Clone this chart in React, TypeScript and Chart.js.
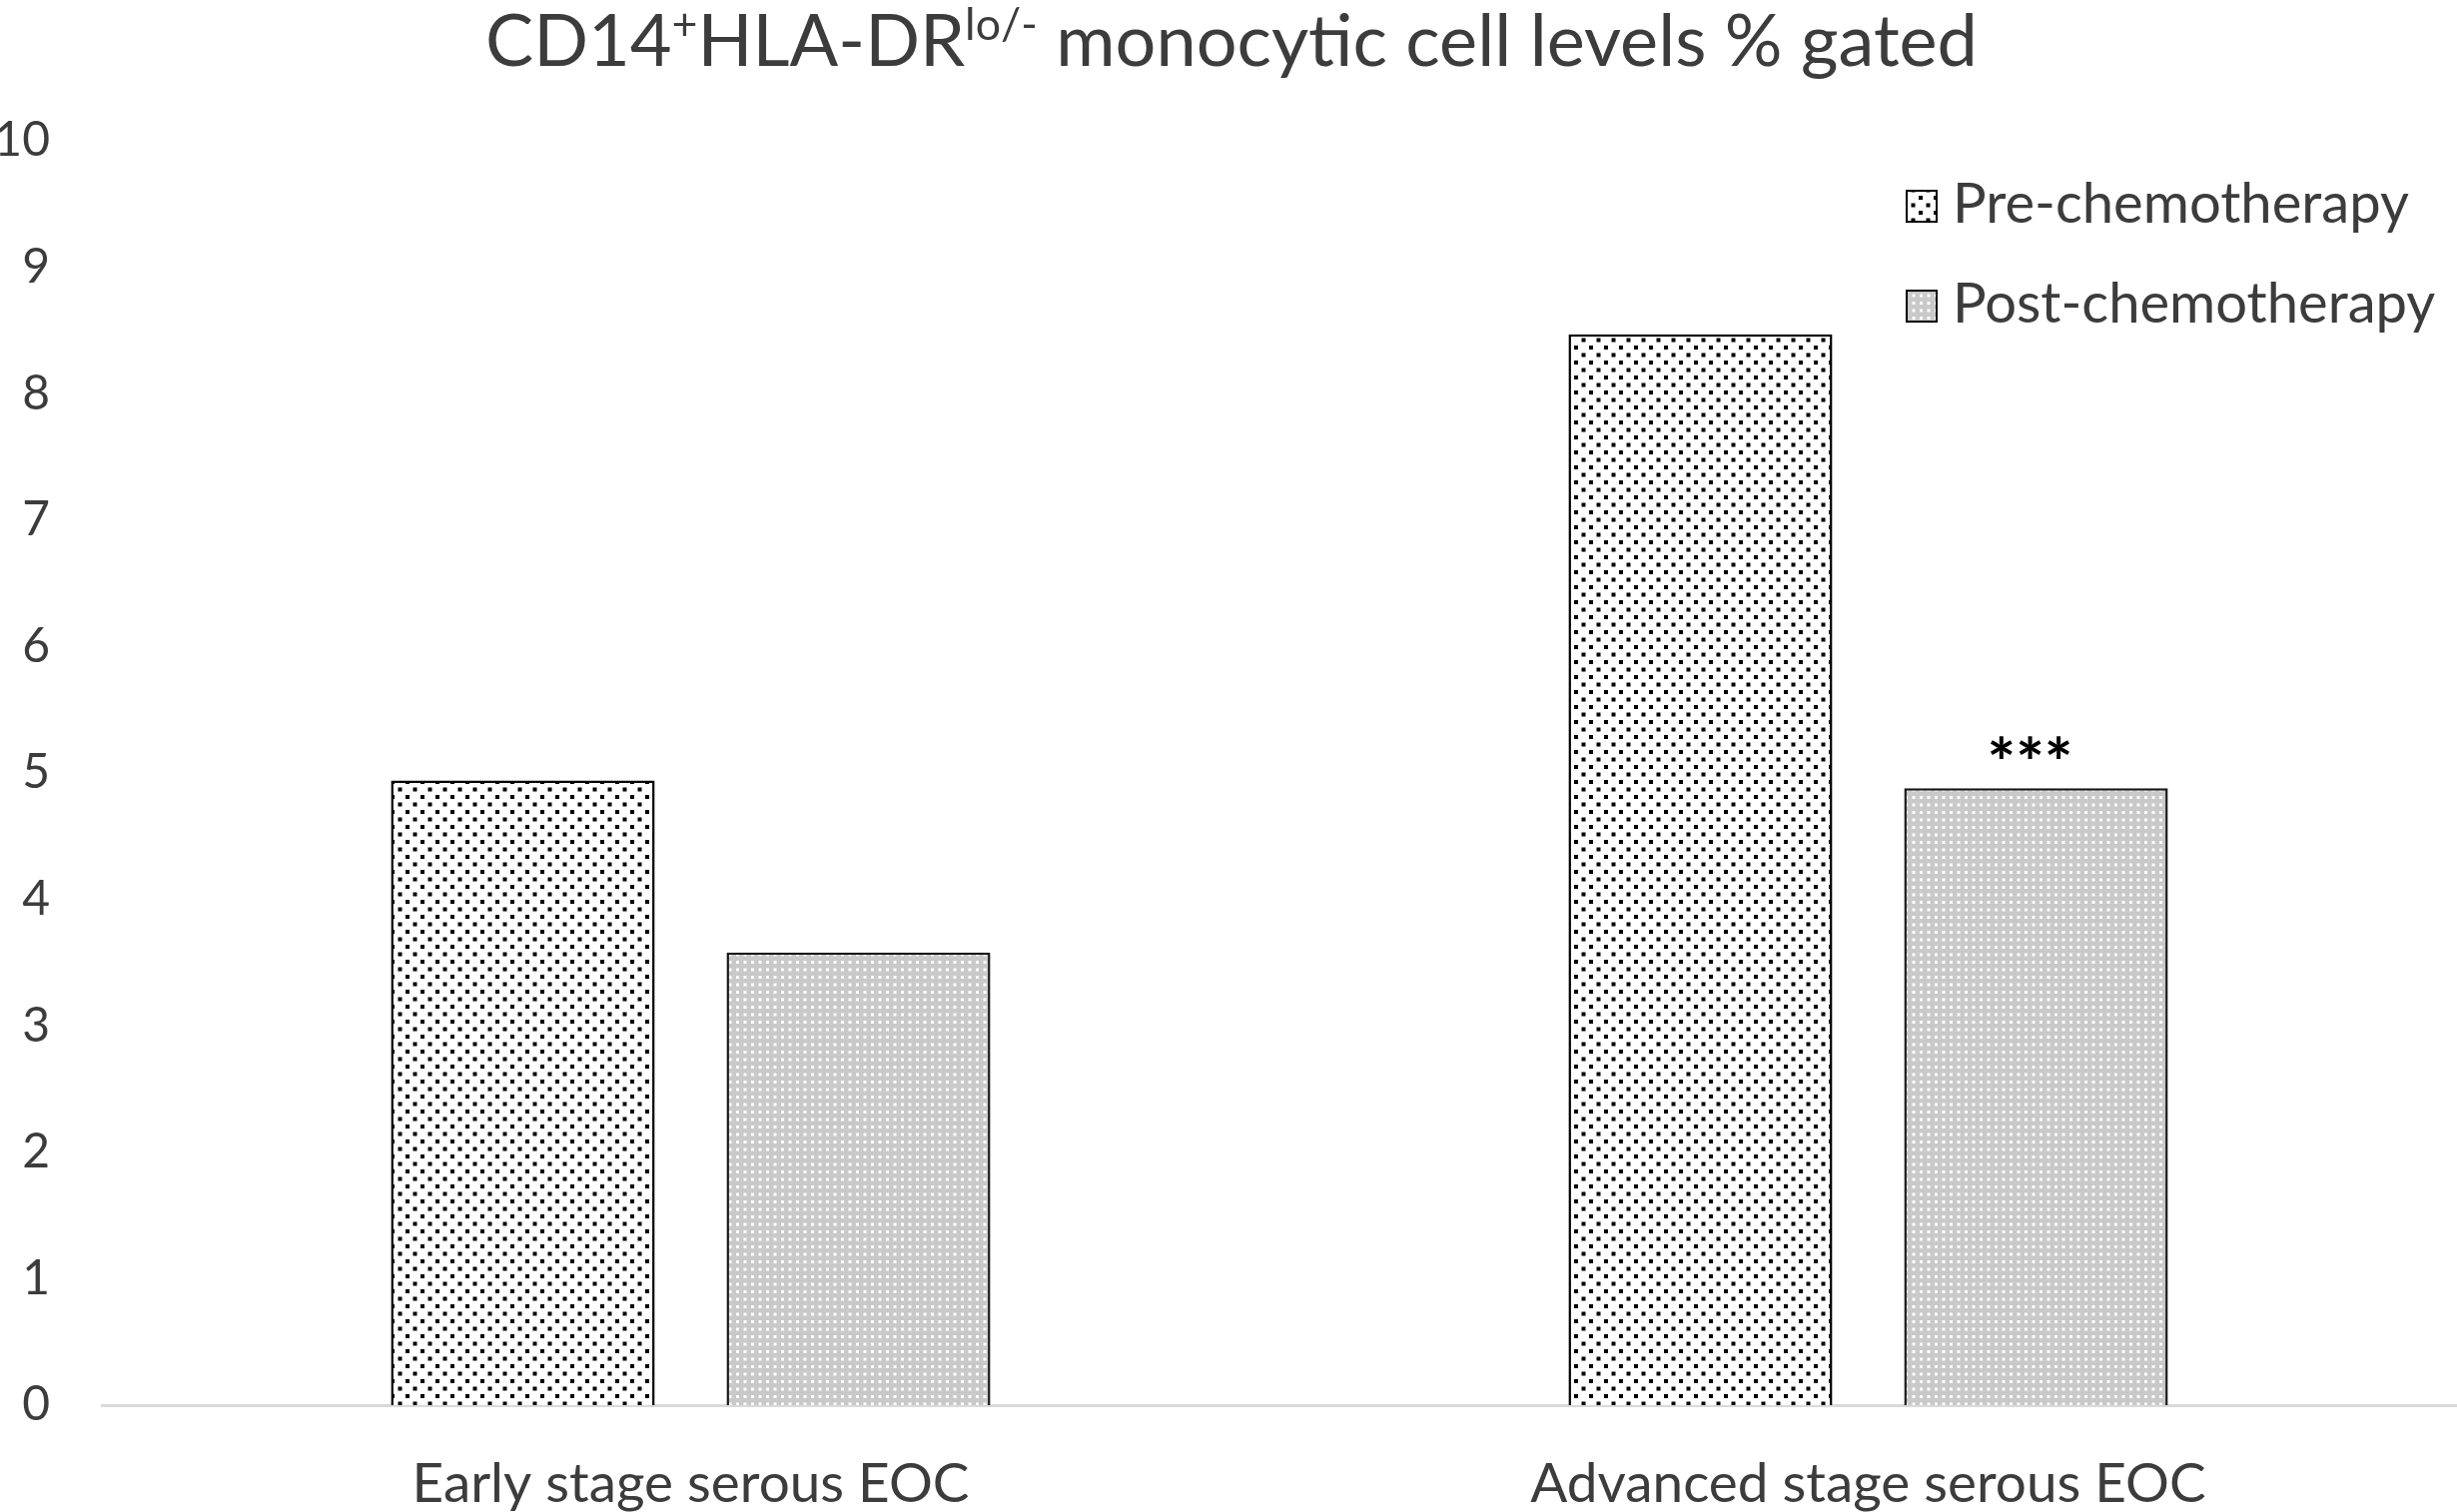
import React, { useEffect, useRef } from "react";
import { Chart, registerables } from "chart.js";

Chart.register(...registerables);

const categories = ["Early stage serous EOC", "Advanced stage serous EOC"];
const seriesNames = ["Pre-chemotherapy", "Post-chemotherapy"];
const preValues = [4.94, 8.47];
const postValues = [3.58, 4.88];
const significance = ["", "***"];
const yTicks = [0, 1, 2, 3, 4, 5, 6, 7, 8, 9, 10];
const titleParts: { t: string; sup: boolean }[] = [
  { t: "CD14", sup: false },
  { t: "+", sup: true },
  { t: "HLA-DR", sup: false },
  { t: "lo/-", sup: true },
  { t: " monocytic cell levels % gated", sup: false },
];

const FONT = "Lato, 'Open Sans', sans-serif";
const TEXT = "#3c3c3c";

function makePrePattern(ctx: CanvasRenderingContext2D): CanvasPattern {
  const c = document.createElement("canvas");
  c.width = 15;
  c.height = 15;
  const g = c.getContext("2d")!;
  g.fillStyle = "#ffffff";
  g.fillRect(0, 0, 15, 15);
  g.fillStyle = "#000000";
  g.fillRect(1, 1, 4, 4);
  g.fillRect(8.5, 8.5, 4, 4);
  return ctx.createPattern(c, "repeat")!;
}

function makePostPattern(ctx: CanvasRenderingContext2D): CanvasPattern {
  const c = document.createElement("canvas");
  c.width = 15;
  c.height = 15;
  const g = c.getContext("2d")!;
  g.fillStyle = "#c9c9c9";
  g.fillRect(0, 0, 15, 15);
  g.fillStyle = "#ffffff";
  g.fillRect(2, 2, 3, 3);
  g.fillRect(9.5, 2, 3, 3);
  g.fillRect(2, 9.5, 3, 3);
  g.fillRect(9.5, 9.5, 3, 3);
  return ctx.createPattern(c, "repeat")!;
}

function fitSize(ctx: CanvasRenderingContext2D, text: string, target: number, weight = "normal"): number {
  ctx.font = `${weight} 100px ${FONT}`;
  const w = ctx.measureText(text).width;
  return (100 * target) / w;
}

export default function App() {
  const ref = useRef<HTMLCanvasElement | null>(null);

  useEffect(() => {
    const canvas = ref.current!;
    const ctx = canvas.getContext("2d")!;
    const prePat = makePrePattern(ctx);
    const postPat = makePostPattern(ctx);

    const xFont = fitSize(ctx, categories[0], 558);
    const legFont = fitSize(ctx, seriesNames[0], 457);

    const titlePlugin = {
      id: "customTitle",
      afterDraw(chart: any) {
        const c: CanvasRenderingContext2D = chart.ctx;
        const measure = (s: number) => {
          let w = 0;
          for (const p of titleParts) {
            c.font = `normal ${p.sup ? s * 0.62 : s}px ${FONT}`;
            w += c.measureText(p.t).width;
          }
          return w;
        };
        const s = (100 * 1494) / measure(100);
        const total = measure(s);
        let x = 1233 - total / 2;
        const base = 66;
        c.save();
        c.fillStyle = TEXT;
        c.textBaseline = "alphabetic";
        c.textAlign = "left";
        for (const p of titleParts) {
          const fs = p.sup ? s * 0.62 : s;
          c.font = `normal ${fs}px ${FONT}`;
          c.fillText(p.t, x, p.sup ? base - s * 0.36 : base);
          x += c.measureText(p.t).width;
        }
        c.restore();
      },
    };

    const legendPlugin = {
      id: "customLegend",
      afterDraw(chart: any) {
        const c: CanvasRenderingContext2D = chart.ctx;
        c.save();
        const pats = [prePat, postPat];
        seriesNames.forEach((name, i) => {
          const y = 190 + i * 100;
          c.fillStyle = pats[i];
          c.fillRect(1908, y, 32, 33);
          c.strokeStyle = "#000";
          c.lineWidth = 2;
          c.strokeRect(1909, y + 1, 30, 31);
          c.fillStyle = TEXT;
          c.font = `normal ${legFont}px ${FONT}`;
          c.textBaseline = "alphabetic";
          c.textAlign = "left";
          c.fillText(name, 1955, y + 33);
        });
        c.restore();
      },
    };

    const sigPlugin = {
      id: "sigMarks",
      afterDatasetsDraw(chart: any) {
        const c: CanvasRenderingContext2D = chart.ctx;
        const meta = chart.getDatasetMeta(1);
        c.save();
        significance.forEach((txt, i) => {
          if (!txt) return;
          const el = meta.data[i];
          const fs = fitSize(c, txt, 86, "bold");
          c.font = `bold ${fs}px ${FONT}`;
          c.fillStyle = "#000";
          c.textAlign = "center";
          c.textBaseline = "alphabetic";
          const m = c.measureText(txt);
          c.fillText(txt, el.x - 6, el.y - 52 + m.actualBoundingBoxAscent);
        });
        c.restore();
      },
    };

    const chart = new Chart(canvas, {
      type: "bar",
      data: {
        labels: categories,
        datasets: [
          {
            label: seriesNames[0],
            data: preValues,
            backgroundColor: prePat as any,
            borderColor: "#000000",
            borderWidth: 2.5,
            categoryPercentage: 0.57,
            barPercentage: 0.786,
          },
          {
            label: seriesNames[1],
            data: postValues,
            backgroundColor: postPat as any,
            borderColor: "#1a1a1a",
            borderWidth: 2.5,
            categoryPercentage: 0.57,
            barPercentage: 0.786,
          },
        ],
      },
      options: {
        animation: false,
        responsive: false,
        devicePixelRatio: 1,
        layout: { padding: { top: 141, right: 0, left: 0, bottom: 0 } },
        plugins: {
          legend: { display: false },
          tooltip: { enabled: false },
          title: { display: false },
        },
        scales: {
          x: {
            grid: { display: false },
            border: { display: true, color: "#d9d9d9", width: 3 },
            ticks: {
              color: TEXT,
              font: { family: FONT, size: xFont },
              padding: 38,
            },
            afterFit: (scale: any) => {
              scale.height = 107;
            },
          },
          y: {
            min: yTicks[0],
            max: yTicks[yTicks.length - 1],
            grid: { display: false },
            border: { display: false },
            afterBuildTicks: (scale: any) => {
              scale.ticks = yTicks.map((v) => ({ value: v }));
            },
            ticks: {
              color: TEXT,
              font: { family: FONT, size: 48 },
              padding: 44,
            },
            afterFit: (scale: any) => {
              scale.width = 102;
            },
          },
        },
      },
      plugins: [titlePlugin, legendPlugin, sigPlugin],
    });

    return () => chart.destroy();
  }, []);

  return (
    <canvas
      ref={ref}
      width={2460}
      height={1514}
      style={{ position: "absolute", left: 0, top: 0, width: 2460, height: 1514 }}
    />
  );
}
